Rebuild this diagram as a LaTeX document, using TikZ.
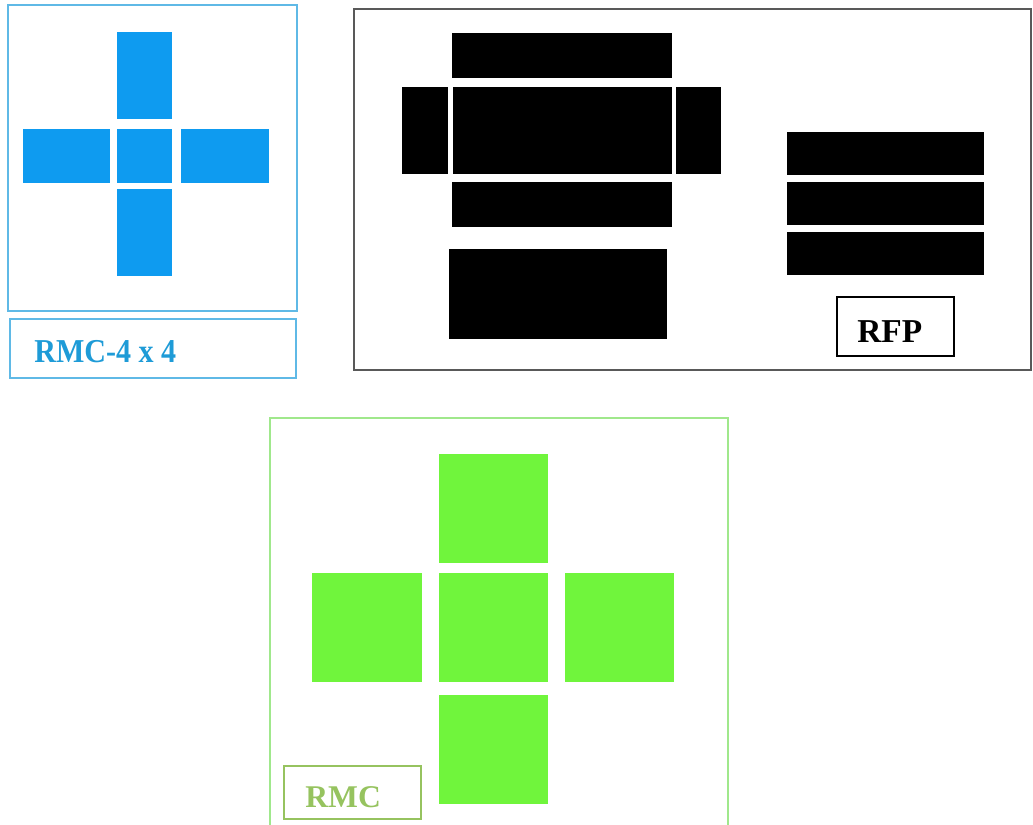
\documentclass[tikz,border=0pt]{standalone}
\usepackage{fontspec}
\setmainfont{Liberation Serif}
\definecolor{rmcblue}{RGB}{14,155,240}
\definecolor{rmcframe}{RGB}{95,185,230}
\definecolor{rmctext}{RGB}{30,155,215}
\definecolor{rmcgreen}{RGB}{112,245,60}
\definecolor{greenframe}{RGB}{160,232,140}
\definecolor{olive}{RGB}{150,195,95}
\begin{document}
\begin{tikzpicture}[x=0.02cm, y=-0.02cm, every node/.style={font=\bfseries, inner sep=0pt}]
  \useasboundingbox (0,0) rectangle (1033,824);
  % RMC-4 x 4
  \draw[rmcframe, line width=1.1pt] (8,5) rectangle (297,311);
  \fill[rmcblue] (117,32) rectangle (172,119);
  \fill[rmcblue] (23,129) rectangle (110,183);
  \fill[rmcblue] (117,129) rectangle (172,183);
  \fill[rmcblue] (181,129) rectangle (269,183);
  \fill[rmcblue] (117,189) rectangle (172,276);
  \draw[rmcframe, line width=1.1pt] (10,319) rectangle (296,378);
  \node[anchor=base west, text=rmctext, font=\bfseries\fontsize{19}{22}\selectfont] (rmcfour) at (34,362) {\scalebox{0.9}[1]{RMC-4 x 4}};
  % RFP
  \draw[gray!70!black, line width=1.1pt] (354,9) rectangle (1031,370);
  \fill (452,33) rectangle (672,78);
  \fill (402,87) rectangle (448,174);
  \fill (453,87) rectangle (672,174);
  \fill (676,87) rectangle (721,174);
  \fill (452,182) rectangle (672,227);
  \fill (449,249) rectangle (667,339);
  \foreach \y in {132,182,232}
    \fill (787,\y) rectangle (984,\y+43);
  \draw[line width=1.1pt] (837,297) rectangle (954,356);
  \node[anchor=base west, font=\bfseries\fontsize{19}{22}\selectfont] (rfp) at (857,342) {RFP};
  % RMC
  \draw[greenframe, line width=1.1pt] (270,830) -- (270,418) -- (728,418) -- (728,830);
  \fill[rmcgreen] (439,454) rectangle (548,563);
  \fill[rmcgreen] (312,573) rectangle (422,682);
  \fill[rmcgreen] (439,573) rectangle (548,682);
  \fill[rmcgreen] (565,573) rectangle (674,682);
  \fill[rmcgreen] (439,695) rectangle (548,804);
  \draw[olive, line width=1.1pt] (284,766) rectangle (421,819);
  \node[anchor=base west, text=olive, font=\bfseries\fontsize{18}{21}\selectfont] (rmc) at (305,807) {RMC};
\end{tikzpicture}
\end{document}
